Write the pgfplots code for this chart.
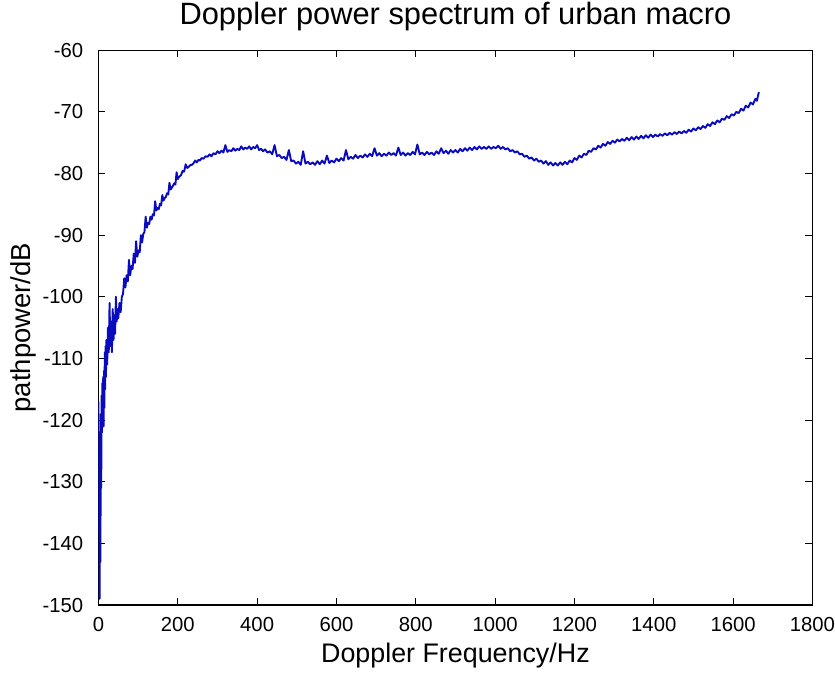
\documentclass[border=0pt]{standalone}
\usepackage{fontspec}
\setmainfont{Liberation Sans}
\usepackage{pgfplots}
\pgfplotsset{compat=1.18}
\definecolor{mblue}{RGB}{10,10,190}

\pgfplotstableread{
x y
0 -117
1 -138
2 -122
3 -149
4 -126
5 -143
6 -119
7 -131
8 -116
9 -122
10 -114
11 -120
12 -113
13 -121
14 -112
15 -118
16 -109
17 -115
18 -108
19 -113
20 -107
22 -111
24 -105
26 -109
28 -101
30 -108
32 -104
34 -109
36 -102
38 -107
40 -103
42 -106
44 -100
46 -104
48 -102
50 -103.5
53 -101
56 -102.5
59 -100
62 -99.5
65 -97
68 -98.5
71 -96.5
74 -97.5
77 -94
80 -96.5
83 -95
86 -95.5
89 -93
92 -94.5
95 -91
98 -93.5
101 -92.5
104 -92.8
107 -90
110 -91.2
113 -89.8
116 -89.5
119 -87
122 -88.8
125 -88
128 -88.2
131 -87
134 -87.5
137 -86.6
140 -86.8
143 -84.5
146 -86
149 -85.6
152 -85.8
155 -84.9
158 -85.2
161 -83.5
164 -84.4
167 -84
170 -83.8
173 -83.2
176 -83.4
179 -81.5
182 -82.6
185 -82.3
188 -82
191 -81.6
194 -81.8
197 -79.8
200 -80.9
204 -80.5
208 -80.3
212 -79.6
216 -79.7
220 -78.5
224 -79.1
228 -78.9
232 -78.6
236 -78.6
240 -78.3
244 -77.9
248 -78.2
252 -77.8
256 -77.9
260 -77.5
265 -77.6
270 -77.2
275 -77.3
280 -76.9
285 -77.2
290 -76.7
295 -76.9
300 -76.4
305 -76.7
310 -76.3
315 -76.6
320 -75.4
325 -76.5
330 -76.2
335 -76.4
340 -75.9
345 -76.3
350 -76.0
355 -76.2
360 -75.6
365 -76.1
370 -75.8
375 -76.0
380 -75.6
385 -76.1
390 -75.7
395 -75.9
400 -75.4
405 -76.2
410 -76.0
415 -76.4
420 -76.1
426 -76.6
432 -76.4
438 -76.9
444 -75.4
450 -77.2
456 -77.0
462 -77.5
468 -77.3
474 -77.8
480 -76.2
486 -78.0
492 -77.9
498 -78.4
504 -78.1
510 -78.6
516 -76.4
522 -78.4
528 -78.1
534 -78.5
540 -78.2
546 -78.6
552 -78.0
558 -78.5
564 -77.9
570 -78.4
576 -77.1
582 -78.3
588 -77.9
594 -78.2
600 -77.6
606 -78.0
612 -77.5
618 -77.9
624 -76.2
630 -77.7
636 -77.3
642 -77.6
648 -77.0
654 -77.5
660 -77.1
666 -77.4
672 -76.9
678 -77.3
684 -76.8
690 -77.2
696 -75.9
702 -77.1
708 -76.7
714 -77.2
720 -76.8
726 -77.1
732 -76.6
738 -77.0
744 -76.7
750 -77.1
756 -75.8
762 -77.0
768 -76.6
774 -77.1
780 -76.7
786 -77.0
792 -76.5
798 -76.9
804 -75.3
810 -76.9
816 -76.6
822 -77.0
828 -76.5
834 -76.9
840 -76.6
846 -77.0
852 -76.4
858 -76.8
864 -75.9
870 -76.7
876 -76.3
882 -76.8
888 -76.2
894 -76.6
900 -76.2
906 -76.6
912 -76.0
918 -76.4
924 -75.9
930 -76.3
936 -75.8
942 -76.2
948 -75.7
954 -76.1
960 -75.6
966 -76.0
972 -75.7
978 -76.0
984 -75.6
990 -76.0
996 -75.7
1002 -75.9
1008 -75.5
1014 -76.0
1020 -75.7
1026 -76.1
1032 -75.9
1038 -76.4
1044 -76.2
1050 -76.6
1056 -76.4
1062 -76.9
1068 -76.8
1074 -77.3
1080 -77.1
1086 -77.6
1092 -77.4
1098 -77.9
1104 -77.6
1110 -78.1
1116 -77.9
1122 -78.4
1128 -78.0
1134 -78.6
1140 -78.2
1146 -78.7
1152 -78.3
1158 -78.7
1164 -78.2
1170 -78.6
1176 -78.1
1182 -78.5
1188 -77.9
1194 -78.2
1200 -77.5
1206 -77.8
1212 -77.1
1218 -77.4
1224 -76.8
1230 -77.0
1236 -76.3
1242 -76.5
1248 -75.9
1254 -76.1
1260 -75.5
1266 -75.8
1272 -75.2
1278 -75.5
1284 -74.9
1290 -75.2
1296 -74.7
1302 -75.0
1308 -74.5
1314 -74.8
1320 -74.4
1326 -74.7
1332 -74.2
1338 -74.6
1344 -74.1
1350 -74.5
1356 -74.0
1362 -74.4
1368 -73.9
1374 -74.3
1380 -73.8
1386 -74.2
1392 -73.7
1398 -74.1
1404 -73.7
1410 -74.0
1416 -73.6
1422 -73.9
1428 -73.5
1434 -73.8
1440 -73.4
1446 -73.7
1452 -73.3
1458 -73.6
1464 -73.2
1470 -73.5
1476 -73.1
1482 -73.4
1488 -72.9
1494 -73.2
1500 -72.7
1506 -73.0
1512 -72.5
1518 -72.8
1524 -72.3
1530 -72.6
1536 -72.0
1542 -72.3
1548 -71.7
1554 -72.0
1560 -71.4
1566 -71.7
1572 -71.1
1578 -71.3
1584 -70.7
1590 -71.0
1596 -70.4
1602 -70.6
1608 -70.0
1614 -70.2
1620 -69.5
1626 -69.8
1632 -69.0
1638 -69.3
1644 -68.5
1650 -68.8
1656 -67.9
1660 -68.2
1663 -67.3
1665 -66.8
}\doppler

\begin{document}
\begin{tikzpicture}
\begin{axis}[
  scale only axis,
  width=359pt, height=279pt,
  xmin=0, xmax=1800, ymin=-150, ymax=-60,
  xtick={0,200,...,1800}, ytick={-150,-140,...,-60},
  tick align=inside, tick pos=both,
  major tick length=3.5pt,
  every tick/.style={black, line width=0.5pt},
  axis line style={black, line width=0.6pt},
  /pgf/number format/assume math mode=true,
  /pgf/number format/1000 sep={},
  ticklabel style={font=\fontsize{10.2}{12}\selectfont, inner sep=0pt},
  x tick label style={anchor=base, yshift=-13.5pt},
  y tick label style={anchor=east, xshift=-7.5pt},
  title={Doppler power spectrum of urban macro},
  title style={font=\fontsize{15.5}{18}\selectfont, at={(0.5,1)}, anchor=base, yshift=7pt, inner sep=1pt},
  xlabel={Doppler Frequency/Hz},
  xlabel style={font=\fontsize{13.5}{16}\selectfont, at={(0.5,0)}, anchor=base, yshift=-29pt, inner sep=1pt},
  ylabel={pathpower/dB},
  ylabel style={font=\fontsize{13.8}{16}\selectfont, at={([xshift=-34pt]axis description cs:0,0.5)}, anchor=base, inner sep=1pt},
]
\addplot[mblue, line width=0.95pt, line join=round] table[x=x, y=y] {\doppler};
\end{axis}
\path ([xshift=-49.5pt, yshift=-35.5pt]current axis.south west) rectangle ([xshift=9pt, yshift=23.5pt]current axis.north east);
\end{tikzpicture}
\end{document}
